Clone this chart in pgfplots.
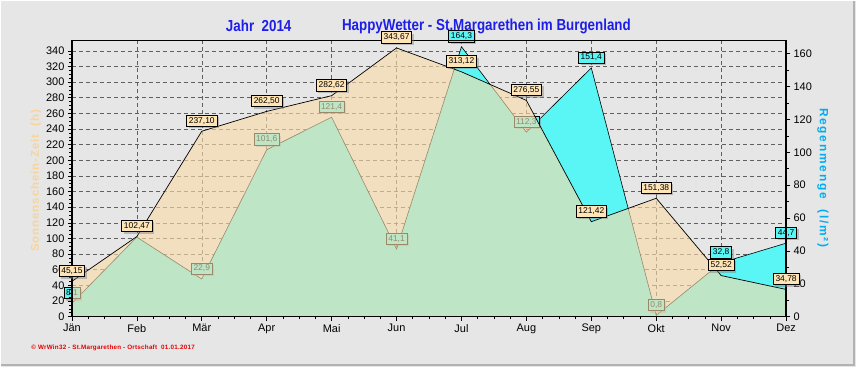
\documentclass[border=0pt]{standalone}
\usepackage{fontspec}
\setmainfont{Liberation Sans}
\newfontfamily\titlefont[FakeStretch=0.84]{Liberation Sans}
\newfontfamily\sunlabfont[LetterSpace=8]{Liberation Sans}
\newfontfamily\rainlabfont[LetterSpace=15]{Liberation Sans}
\newfontfamily\footfont[LetterSpace=4]{Liberation Sans}
\usepackage{pgfplots}
\usepackage{pgfplotstable}
\pgfplotsset{compat=1.18}
\usetikzlibrary{shadows}

\definecolor{bg}{RGB}{230,230,230}
\definecolor{rainc}{RGB}{90,245,245}
\definecolor{sunc}{RGB}{250,220,170}
\definecolor{sunlbl}{RGB}{255,228,182}
\definecolor{titleblue}{RGB}{30,30,235}
\definecolor{ylabsun}{RGB}{250,212,150}
\definecolor{footred}{RGB}{230,0,0}

\pgfplotstableread{
m  sun     slbl    rain   rlbl
0  45.15   45,15   8.1    8,1
1  102.47  102,47  48.4   48,4
2  237.10  237,10  22.9   22,9
3  262.50  262,50  101.6  101,6
4  282.62  282,62  121.4  121,4
5  343.67  343,67  41.1   41,1
6  313.12  313,12  164.3  164,3
7  276.55  276,55  112.3  112,3
8  121.42  121,42  151.4  151,4
9  151.38  151,38  0.8    0,8
10 52.52   52,52   32.8   32,8
11 34.78   34,78   44.7   44,7
}\data

\pgfplotsset{
  base/.style={scale only axis, width=715bp, height=276.3bp,
    at={(71bp,50bp)}, anchor=south west, xmin=0, xmax=11, clip=false,
    /pgf/number format/assume math mode=true,
    ticklabel style={font=\fontsize{11}{13}\selectfont, text=black},
    major tick length=4bp, minor tick length=2.5bp, tick align=outside,
    tick style={black, line width=0.6bp}},
  lbl/.style={nodes near coords, point meta=explicit symbolic,
    every node near coord/.style={anchor=south, yshift=4.5bp,
      font=\fontsize{8.5}{9}\selectfont, text=black, fill=#1, draw=black,
      line width=0.6bp, inner xsep=2.2bp, inner ysep=2.2bp,
      drop shadow={shadow xshift=2bp, shadow yshift=-2bp, opacity=0.45}}},
}

\begin{document}
\begin{tikzpicture}[x=1bp,y=1bp]
\fill[bg] (0,0) rectangle (856,366);
\draw[gray!60, line width=2bp] (0,2) -- (854,2) -- (854,366);

% grid
\begin{axis}[base, ymin=0, ymax=353, ytick={0,20,...,340}, xtick={0,...,11},
  grid=major, major grid style={dash pattern=on 4bp off 3bp, gray!75!black, line width=0.5bp},
  axis line style={draw=none}, tick style={draw=none}, xticklabels={}, yticklabels={}]
\end{axis}

% rain (right axis)
\begin{axis}[base, ymin=0, ymax=168, axis x line=none, axis y line*=right,
  ytick={0,20,...,160}, minor y tick num=1,
  y axis line style={line width=1.5bp, -}]
\addplot[fill=rainc, draw=black, line width=0.6bp] table[x=m,y=rain]{\data} \closedcycle;
\addplot[draw=none, lbl=rainc, skip coords between index={1}{2}] table[x=m,y=rain,meta=rlbl]{\data};
\end{axis}

% sunshine (left axis)
\begin{axis}[base, ymin=0, ymax=353, axis on top,
  ytick={0,20,...,340}, minor y tick num=3, ytick pos=left,
  xtick={0,...,11}, minor x tick num=3, xtick pos=bottom,
  xticklabels={Jän,Feb,Mär,Apr,Mai,Jun,Jul,Aug,Sep,Okt,Nov,Dez},
  axis line style={line width=1.5bp}]
\addplot[fill=sunc, fill opacity=0.62, draw=black, line width=0.7bp] table[x=m,y=sun]{\data} \closedcycle;
\addplot[draw=none, lbl=sunlbl] table[x=m,y=sun,meta=slbl]{\data};
\end{axis}

% titles and labels
\node[text=titleblue, font=\titlefont\bfseries\fontsize{16}{18}\selectfont] at (258,341) {Jahr\ \ 2014};
\node[text=titleblue, font=\titlefont\bfseries\fontsize{16}{18}\selectfont] at (486,341) {HappyWetter - St.Margarethen im Burgenland};
\node[rotate=90, text=ylabsun, font=\sunlabfont\bfseries\fontsize{11.5}{13}\selectfont] at (35,186) {Sonnenschein-Zeit\ \ (h)};
\node[rotate=-90, text=cyan, font=\rainlabfont\bfseries\fontsize{12}{14}\selectfont] at (823,189) {Regenmenge\ \ (l/m²)};
\node[anchor=west, text=footred, font=\footfont\bfseries\fontsize{6.3}{8}\selectfont] at (27,19) {© WrWin32 - St.Margarethen - Ortschaft\ \ 01.01.2017};
\end{tikzpicture}
\end{document}
